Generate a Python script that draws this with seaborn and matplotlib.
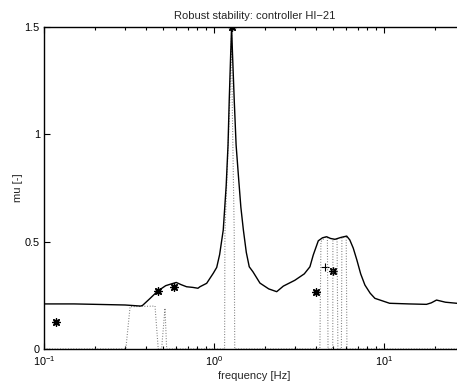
import numpy as np
import pandas as pd
import matplotlib
matplotlib.use("Agg")
import matplotlib.pyplot as plt
import seaborn as sns
from matplotlib.ticker import LogLocator, LogFormatterMathtext, NullFormatter

# --- data ---
# upper bound of mu (solid)
freq_upper = [0.1, 0.15, 0.2, 0.3, 0.37, 0.38, 0.42, 0.467, 0.52, 0.56, 0.60, 0.64, 0.69,
              0.75, 0.805, 0.827, 0.906, 0.991, 1.038, 1.08, 1.134, 1.18, 1.21, 1.23,
              1.255, 1.27, 1.285, 1.316, 1.35, 1.395, 1.44, 1.49, 1.55, 1.613, 1.695,
              1.865, 2.1, 2.34, 2.56, 2.99, 3.4, 3.67, 3.84, 4.11, 4.35, 4.6, 4.85, 5.15,
              5.6, 6.04, 6.3, 6.6, 6.93, 7.3, 7.73, 8.3, 8.85, 10.8, 14.0, 17.8, 19.0,
              20.4, 23.0, 26.8, 30.0]
mu_upper = [0.21, 0.21, 0.208, 0.205, 0.2, 0.203, 0.235, 0.27, 0.295, 0.303, 0.31, 0.3, 0.29,
            0.287, 0.283, 0.29, 0.306, 0.353, 0.38, 0.44, 0.554, 0.76, 0.95, 1.16,
            1.38, 1.5, 1.38, 1.16, 0.95, 0.8, 0.66, 0.554, 0.45, 0.383, 0.36,
            0.307, 0.28, 0.267, 0.293, 0.32, 0.35, 0.383, 0.438, 0.504, 0.518, 0.523, 0.515, 0.511,
            0.52, 0.526, 0.508, 0.47, 0.415, 0.35, 0.298, 0.26, 0.236, 0.213, 0.21, 0.208, 0.215,
            0.228, 0.218, 0.213, 0.212]

# lower bound of mu (dotted)
freq_lower = [0.1, 0.303, 0.321, 0.45, 0.47, 0.492, 0.515, 0.527, 1.155, 1.16, 1.24, 1.27,
              1.28, 1.316, 1.325, 4.2, 4.26, 4.5, 4.65, 4.69, 5.0, 5.01, 5.3, 5.36, 5.62,
              5.66, 6.0, 6.06, 30.0]
mu_lower = [0.0, 0.0, 0.197, 0.2, 0.0, 0.0, 0.19, 0.0, 0.0, 0.54, 1.16, 1.49,
            1.16, 0.54, 0.0, 0.0, 0.5, 0.52, 0.52, 0.0, 0.0, 0.51, 0.51, 0.0, 0.0,
            0.52, 0.52, 0.0, 0.0]

# asterisk markers
freq_star = [0.1176, 0.467, 0.582, 1.27, 3.98, 4.99]
mu_star = [0.127, 0.27, 0.287, 1.5, 0.267, 0.365]
# plus marker
freq_plus = [4.5]
mu_plus = [0.383]

title = "Robust stability: controller HI\u221221"
xlabel = "frequency [Hz]"
ylabel = "mu [-]"

sns.set_style("ticks")
plt.rcParams["font.family"] = ["Liberation Sans", "DejaVu Sans"]
plt.rcParams["font.size"] = 7

W, H = 457, 387
fig = plt.figure(figsize=(W / 100, H / 100), dpi=100)
left_px, right_px, top_px, bottom_px = 44, 465, 27, 349
ax = fig.add_axes([left_px / W, (H - bottom_px) / H,
                   (right_px - left_px) / W, (bottom_px - top_px) / H])

df_u = pd.DataFrame({"f": freq_upper, "mu": mu_upper})
df_l = pd.DataFrame({"f": freq_lower, "mu": mu_lower})
df_s = pd.DataFrame({"f": freq_star, "mu": mu_star})
df_p = pd.DataFrame({"f": freq_plus, "mu": mu_plus})

sns.lineplot(data=df_l, x="f", y="mu", ax=ax, sort=False, estimator=None,
             color="0.45", linestyle=(0, (0.8, 1.6)), linewidth=0.8)
sns.lineplot(data=df_u, x="f", y="mu", ax=ax, sort=False, estimator=None,
             color="black", linewidth=1.0)
sns.scatterplot(data=df_s, x="f", y="mu", ax=ax, marker=(8, 2, 0), s=28,
                color="black", linewidth=1.0)
sns.scatterplot(data=df_p, x="f", y="mu", ax=ax, marker="+", s=30, color="black",
                linewidth=0.8)

ax.set_xscale("log")
ax.set_xlim(0.1, 30)
ax.set_ylim(0, 1.5)
ax.set_yticks([0, 0.5, 1, 1.5])
ax.set_yticklabels(["0", "0.5", "1", "1.5"])
ax.xaxis.set_major_locator(LogLocator(base=10, numticks=10))
ax.xaxis.set_major_formatter(LogFormatterMathtext())
ax.xaxis.set_minor_locator(LogLocator(base=10, subs=np.arange(2, 10), numticks=20))
ax.xaxis.set_minor_formatter(NullFormatter())

ax.tick_params(which="both", direction="in", top=True, right=False, colors="black",
               labelsize=7.8, width=0.8)
ax.tick_params(which="major", length=4)
ax.tick_params(axis="x", which="major", pad=4)
ax.tick_params(axis="y", which="major", pad=3)
ax.tick_params(which="minor", length=2.2)
for side in ["left", "bottom", "top"]:
    ax.spines[side].set_linewidth(1.0)
    ax.spines[side].set_color("black")
ax.spines["right"].set_visible(False)

ax.set_title(title, fontsize=8, pad=6)
ax.set_xlabel(xlabel, fontsize=8, labelpad=2)
ax.set_ylabel(ylabel, fontsize=8, labelpad=1)

fig.savefig("out.png", dpi=100)
